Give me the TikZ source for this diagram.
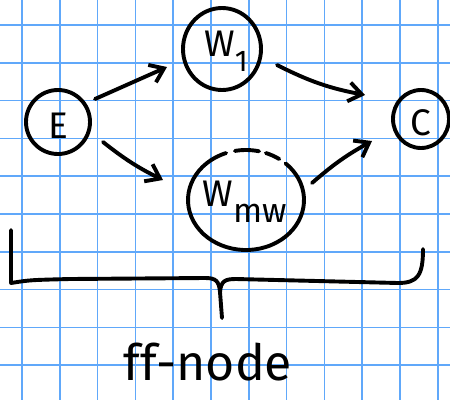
\documentclass[tikz,border=0pt]{standalone}
\usepackage{fontspec}
\setmainfont{Fira Sans}
\usetikzlibrary{arrows.meta,calc,shapes.geometric}
\definecolor{gridblue}{RGB}{96,168,250}
\begin{document}
\begin{tikzpicture}[x=1pt,y=-1pt,
  ink/.style={line width=3.9pt, line cap=round, line join=round, black},
  bubble/.style={ellipse, ink, draw, inner sep=0pt},
  lbl/.style={inner sep=0pt, font=\fontsize{37}{40}\selectfont},
  arr/.style={ink, -{Straight Barb[length=13pt,width=19pt]}},
  gridline/.style={gridblue, line width=1.6pt}]
  % paper with a square grid
  \fill[white] (0,0) rectangle (450,400);
  \useasboundingbox (0,0) rectangle (450,400);
  \foreach \k in {0,...,11} {
    \draw[gridline] ({22+37.8*\k},0) -- ({22+37.8*\k},400);
  }
  \foreach \k in {0,...,9} {
    \draw[gridline] (0,{25+37.8*\k}) -- (450,{25+37.8*\k});
  }

  % nodes
  \node[bubble, minimum width=64pt, minimum height=64pt,
        label={[lbl, yshift=-4pt]center:E}] (E) at (58,122) {};
  \node[bubble, minimum width=78pt, minimum height=82pt,
        label={[lbl, xshift=4pt, yshift=-2pt]center:W\raisebox{-15pt}{\fontsize{30}{30}\selectfont 1}}] (W1) at (222,49) {};
  \node[bubble, minimum width=56pt, minimum height=58pt,
        label={[lbl, yshift=-4pt]center:C}] (C) at (421,119) {};
  \node[ellipse, inner sep=0pt, minimum width=116pt, minimum height=100pt,
        label={[lbl, xshift=-1pt, yshift=-2pt]center:W\raisebox{-16pt}{\fontsize{34}{34}\selectfont mw}}] (Wmw) at (246,200) {};
  % outline of the lower node, broken along its top
  \draw[ink] ($(Wmw)+({58*cos(-110)},{50*sin(-110)})$)
    arc[start angle=-110, end angle=-407, x radius=58, y radius=50];
  \draw[ink] ($(Wmw)+({58*cos(-55)},{50*sin(-55)})$)
    arc[start angle=-55, end angle=-70, x radius=58, y radius=50];
  \draw[ink] ($(Wmw)+({58*cos(-77)},{50*sin(-77)})$)
    arc[start angle=-77, end angle=-101, x radius=58, y radius=50];

  % arrows
  \draw[arr] ($(E)+(37,-23)$) -- ($(W1)+(-55,18)$);
  \draw[arr] ($(E)+(45,20)$) to[bend right=6] ($(Wmw)+(-83,-20)$);
  \draw[arr] ($(W1)+(55,16)$) to[bend right=8] ($(C)+(-56,-24)$);
  \draw[arr] ($(Wmw)+(66,-17)$) to[bend left=6] ($(C)+(-49,22)$);

  % brace under the group
  \draw[ink] (11,230) -- (11,283) .. controls (30,280) .. (70,279)
    -- (205,278) .. controls (216,278) and (219,281) .. (220,292) -- (222,318);
  \draw[ink] (220,292) .. controls (221,281) and (225,279) .. (236,279)
    -- (398,283) .. controls (418,283) and (423,275) .. (423,249);

  % group caption
  \node[inner sep=0pt, font=\fontsize{50}{56}\selectfont] (cap) at (208,362) {ff-node};
\end{tikzpicture}
\end{document}
